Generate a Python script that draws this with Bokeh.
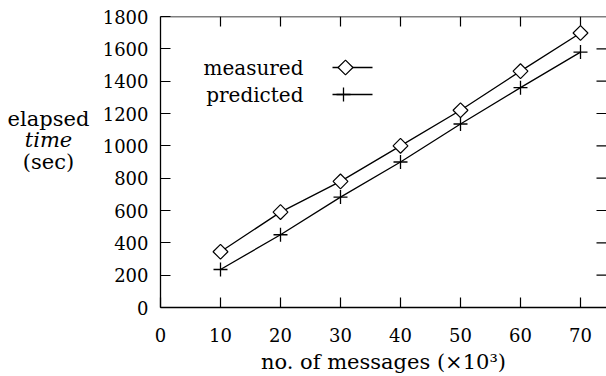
from bokeh.plotting import figure
from bokeh.models import Range1d, LinearAxis, FixedTicker, Label, Span
from bokeh.layouts import row
from bokeh.embed import file_html
from bokeh.resources import INLINE
import math

# ---- data ----
messages = [10, 20, 30, 40, 50, 60, 70]          # x 10^3
measured = [345, 590, 780, 1000, 1220, 1462, 1698]
predicted = [235, 450, 683, 900, 1135, 1360, 1580]
x_ticks = [0, 10, 20, 30, 40, 50, 60, 70]
y_ticks = [0, 200, 400, 600, 800, 1000, 1200, 1400, 1600, 1800]
x_label = "no. of messages (\u00d710\u00b3)"
y_label_lines = [("elapsed", "normal"), ("time", "italic"), ("(sec)", "normal")]

FONT = "DejaVu Serif"
TICK_SIZE = "18px"
TEXT_SIZE = "20px"

W_TOTAL, H_TOTAL = 606, 376
W_LEFT = 95                      # narrow figure holding the y title
FRAME_L, FRAME_T, FRAME_B = 160, 16, 307
X_END = (W_TOTAL - FRAME_L) / 6.0
PX_PER_Y = (FRAME_B - FRAME_T) / 1800.0
PX_PER_X = 6.0

# ---- left title figure ----
lf = figure(width=W_LEFT, height=H_TOTAL, output_backend="svg", toolbar_location=None,
            x_range=Range1d(0, W_LEFT), y_range=Range1d(0, H_TOTAL),
            x_axis_location=None, y_axis_location=None,
            min_border=0, min_border_left=0, min_border_right=0,
            min_border_top=0, min_border_bottom=0)
lf.outline_line_color = None
lf.grid.visible = False
for i, (txt, style) in enumerate(y_label_lines):
    lf.add_layout(Label(x=48, y=H_TOTAL - (132 + 28 * i), text=txt, text_font=FONT,
                        text_font_size="21px", text_font_style=style,
                        text_align="center", text_baseline="middle", text_color="black"))

# ---- main figure ----
p = figure(width=W_TOTAL - W_LEFT, height=H_TOTAL, output_backend="svg", toolbar_location=None,
           x_range=Range1d(0, X_END), y_range=Range1d(0, 1800),
           x_axis_location=None, y_axis_location=None,
           min_border_left=FRAME_L - W_LEFT, min_border_right=0,
           min_border_top=FRAME_T, min_border_bottom=H_TOTAL - FRAME_B)
p.outline_line_color = None
p.grid.visible = False

def style_axis(ax, ticks):
    ax.ticker = FixedTicker(ticks=ticks)
    ax.major_tick_in = 10
    ax.major_tick_out = 0
    ax.minor_tick_line_color = None
    ax.axis_line_color = "black"
    ax.axis_line_width = 1.3
    ax.major_tick_line_color = "black"
    ax.major_tick_line_width = 1.2
    ax.major_label_text_font = FONT
    ax.major_label_text_font_size = TICK_SIZE
    ax.major_label_text_color = "black"

left = LinearAxis()
style_axis(left, y_ticks)
left.major_label_standoff = 12
p.add_layout(left, "left")

bottom = LinearAxis(axis_label=x_label)
style_axis(bottom, x_ticks)
bottom.major_label_standoff = 20
bottom.axis_label_standoff = 5
bottom.axis_label_text_font = FONT
bottom.axis_label_text_font_size = "21px"
bottom.axis_label_text_font_style = "normal"
bottom.axis_label_text_color = "black"
p.add_layout(bottom, "below")

# top border and inward ticks on top / right
p.add_layout(Span(location=1800, dimension="width", line_color="black", line_width=1.3))
tick_len_y = 10 / PX_PER_Y
tick_len_x = 10 / PX_PER_X
top_x = x_ticks[1:]
p.segment(x0=top_x, y0=[1800] * len(top_x), x1=top_x, y1=[1800 - tick_len_y] * len(top_x),
          line_color="black", line_width=1.2)
right_y = y_ticks[1:-1]
p.segment(x0=[X_END] * len(right_y), y0=right_y, x1=[X_END - tick_len_x] * len(right_y), y1=right_y,
          line_color="black", line_width=1.2)

# ---- series ----
p.line(messages, measured, line_color="black", line_width=1.3)
p.line(messages, predicted, line_color="black", line_width=1.3)
p.scatter(messages, measured, marker="square", size=10.5, angle=math.pi / 4,
          fill_color="white", line_color="black", line_width=1.2)
p.scatter(messages, predicted, marker="cross", size=14,
          line_color="black", line_width=1.3)

# ---- pixel -> data helpers for legend layout ----
def dx(px):
    return (px - FRAME_L) / PX_PER_X

def dy(py):
    return (FRAME_B - py) / PX_PER_Y

# ---- legend (label before glyph) ----
for name, py, mk in [("measured", 67, "square"), ("predicted", 94, "cross")]:
    p.add_layout(Label(x=dx(303), y=dy(py), text=name, text_font=FONT,
                       text_font_size=TEXT_SIZE, text_align="right",
                       text_baseline="middle", text_color="black"))
    p.line([dx(332), dx(372)], [dy(py), dy(py)], line_color="black", line_width=1.3)
    if mk == "square":
        p.scatter([dx(345)], [dy(py)], marker="square", size=10.5, angle=math.pi / 4,
                  fill_color="white", line_color="black", line_width=1.2)
    else:
        p.scatter([dx(343)], [dy(py)], marker="cross", size=14,
                  line_color="black", line_width=1.3)

layout = row(lf, p, spacing=0)
open("out.html", "w").write(file_html(layout, INLINE))
